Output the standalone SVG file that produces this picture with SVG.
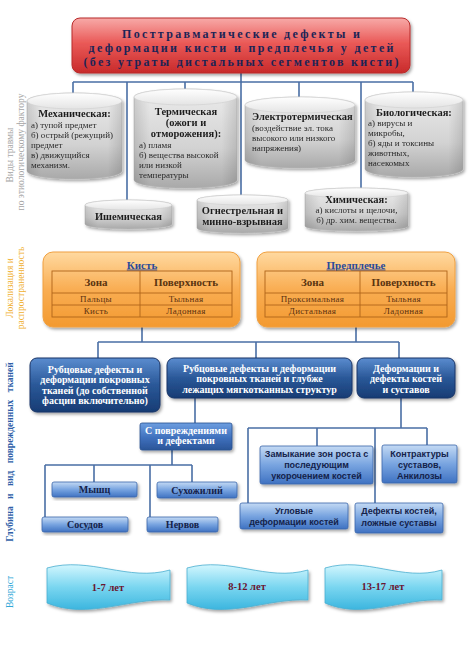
<svg xmlns="http://www.w3.org/2000/svg" width="474" height="670" viewBox="0 0 474 670">
<defs>
<linearGradient id="gRed" x1="0" y1="0" x2="0" y2="1"><stop offset="0" stop-color="#f7aaa8"/><stop offset="0.45" stop-color="#ea5a58"/><stop offset="1" stop-color="#c82a2a"/></linearGradient>
<linearGradient id="gCyl" x1="0" y1="0" x2="0" y2="1"><stop offset="0" stop-color="#ececec"/><stop offset="0.6" stop-color="#d2d2d2"/><stop offset="1" stop-color="#a9a9a9"/></linearGradient>
<linearGradient id="gCylSide" x1="0" y1="0" x2="1" y2="0"><stop offset="0" stop-color="#000" stop-opacity="0.12"/><stop offset="0.15" stop-color="#000" stop-opacity="0"/><stop offset="0.85" stop-color="#000" stop-opacity="0"/><stop offset="1" stop-color="#000" stop-opacity="0.12"/></linearGradient>
<linearGradient id="gTop" x1="0" y1="0" x2="0" y2="1"><stop offset="0" stop-color="#ffffff"/><stop offset="1" stop-color="#e4e4e4"/></linearGradient>
<linearGradient id="gOr" x1="0" y1="0" x2="0" y2="1"><stop offset="0" stop-color="#ffd9a0"/><stop offset="0.5" stop-color="#f9ad52"/><stop offset="1" stop-color="#f39a30"/></linearGradient>
<linearGradient id="gDB" x1="0" y1="0" x2="0" y2="1"><stop offset="0" stop-color="#5a8ccf"/><stop offset="0.5" stop-color="#2a5898"/><stop offset="1" stop-color="#173c74"/></linearGradient>
<linearGradient id="gMB" x1="0" y1="0" x2="0" y2="1"><stop offset="0" stop-color="#6d9ee0"/><stop offset="0.55" stop-color="#3f70bd"/><stop offset="1" stop-color="#2a5598"/></linearGradient>
<linearGradient id="gLB" x1="0" y1="0" x2="0" y2="1"><stop offset="0" stop-color="#c4daf4"/><stop offset="0.5" stop-color="#78a4e0"/><stop offset="1" stop-color="#3f72c2"/></linearGradient>
<linearGradient id="gCy" x1="0" y1="0" x2="0" y2="1"><stop offset="0" stop-color="#d2f6fe"/><stop offset="0.5" stop-color="#7ad6f0"/><stop offset="1" stop-color="#3cb6df"/></linearGradient>
<filter id="sh" x="-10%" y="-10%" width="125%" height="135%"><feDropShadow dx="1.5" dy="2" stdDeviation="1.5" flood-color="#000" flood-opacity="0.35"/></filter>
<style>
.conn{stroke:#4a6fa5;stroke-width:1.6;fill:none}
.cyl{fill:url(#gCyl);stroke:#b5b5b5;stroke-width:0.6}
.cyls{fill:url(#gCylSide)}
.ctop{fill:url(#gTop);stroke:#cfcfcf;stroke-width:0.6}
.st{font-family:"Liberation Serif",serif;font-weight:bold;font-size:10.5px;fill:#1e1e1e;text-anchor:middle}
.si{font-family:"Liberation Serif",serif;font-size:9px;fill:#2a2a2a}
.title{font-family:"Liberation Serif",serif;font-weight:bold;font-size:12px;fill:#1c2456;text-anchor:middle}
.or{fill:url(#gOr);stroke:#f0a040;stroke-width:1}
.tbl{fill:none;stroke:#b0641a;stroke-width:0.9}
.th{font-family:"Liberation Serif",serif;font-weight:bold;font-size:11px;fill:#5a3410;text-anchor:middle}
.td{font-family:"Liberation Serif",serif;font-size:9px;fill:#5a3010;text-anchor:middle;letter-spacing:0.3px}
.ot{font-family:"Liberation Serif",serif;font-weight:bold;font-size:11px;fill:#2a4a9a;text-anchor:middle;text-decoration:underline}
.db{fill:url(#gDB);stroke:#1a3566;stroke-width:1}
.dbt{font-family:"Liberation Serif",serif;font-weight:bold;font-size:10px;fill:#ffffff;text-anchor:middle}
.lb{fill:url(#gLB);stroke:#3a66aa;stroke-width:0.8}
.lbt{font-family:"Liberation Serif",serif;font-weight:bold;font-size:10px;fill:#14224a;text-anchor:middle}
.lbs{font-family:"Liberation Sans",sans-serif;font-weight:bold;font-size:9px;fill:#14224a;text-anchor:middle}
.cy{fill:url(#gCy);stroke:#4aaed0;stroke-width:0.8}
.cyt{font-family:"Liberation Serif",serif;font-weight:bold;font-size:10.5px;fill:#6a1530;text-anchor:middle}
.side{font-family:"Liberation Serif",serif;font-size:9.5px;text-anchor:middle}
</style>
</defs>
<rect width="474" height="670" fill="#ffffff"/>

<g id="side-labels">
<text class="side" fill="#a5a5a5" transform="translate(13,155) rotate(-90)">Виды травмы</text>
<text class="side" fill="#a5a5a5" transform="translate(24,152) rotate(-90)">по этиологическому фактору</text>
<text class="side" fill="#f0b030" transform="translate(13,288) rotate(-90)">Локализация и</text>
<text class="side" fill="#f0b030" transform="translate(24,288) rotate(-90)">распространенность</text>
<text class="side" fill="#2f5fa8" font-weight="bold" font-size="10" word-spacing="5" transform="translate(13,452) rotate(-90)">Глубина и вид поврежденных тканей</text>
<text class="side" fill="#30a8d8" font-size="10.5" transform="translate(13,592) rotate(-90)">Возраст</text>
</g>

<g id="connectors">
<path class="conn" d="M241,73 V197 M73,82 H413 M73,82 V96 M127,82 V203 M185,82 V92 M299,82 V100 M361,82 V190 M413,82 V95"/>
<path class="conn" d="M142,327 V342 M356,327 V342 M98,342 H399 M98,342 V358 M256,342 V358 M399,342 V358"/>
<path class="conn" d="M195,398 V423 M172,450 V465 M45,465 H192 M45,465 V517 M94,465 V482 M150,465 V517 M192,465 V482"/>
<path class="conn" d="M401,398 V428 M248,428 H427 M248,428 V503 M317,428 V446 M375,428 V503 M427,428 V445"/>
</g>

<g id="title">
<rect x="72" y="18" width="338" height="55" rx="8" fill="url(#gRed)" stroke="#b82a2a" stroke-width="1" filter="url(#sh)"/>
<text class="title" x="241" y="38" textLength="238" lengthAdjust="spacing">Посттравматические дефекты и</text>
<text class="title" x="241" y="52" textLength="305" lengthAdjust="spacing">деформации кисти и предплечья у детей</text>
<text class="title" x="241" y="66" textLength="315" lengthAdjust="spacing">(без утраты дистальных сегментов кисти)</text>
</g>

<g id="mech" filter="url(#sh)">
<path class="cyl" d="M27,101 A47.5,8 0 0 1 122,101 V171 A47.5,8 0 0 1 27,171 Z"/>
<path class="cyls" d="M27,101 A47.5,8 0 0 1 122,101 V171 A47.5,8 0 0 1 27,171 Z"/>
<ellipse class="ctop" cx="74.5" cy="101" rx="47.5" ry="8"/>
<text class="st" x="74.5" y="117">Механическая:</text>
<text class="si" x="31" y="128">а) тупой предмет</text>
<text class="si" x="31" y="138">б) острый (режущий)</text>
<text class="si" x="31" y="148">предмет</text>
<text class="si" x="31" y="158">в) движущийся</text>
<text class="si" x="31" y="168">механизм.</text>
</g>

<g id="therm" filter="url(#sh)">
<path class="cyl" d="M134,97 A51.5,8 0 0 1 237,97 V180 A51.5,8 0 0 1 134,180 Z"/>
<path class="cyls" d="M134,97 A51.5,8 0 0 1 237,97 V180 A51.5,8 0 0 1 134,180 Z"/>
<ellipse class="ctop" cx="185.5" cy="97" rx="51.5" ry="8"/>
<text class="st" x="186" y="115">Термическая</text>
<text class="st" x="186" y="126">(ожоги и</text>
<text class="st" x="186" y="137">отморожения):</text>
<text class="si" x="139" y="148">а) пламя</text>
<text class="si" x="139" y="158">б) вещества высокой</text>
<text class="si" x="139" y="168">или низкой</text>
<text class="si" x="139" y="178">температуры</text>
</g>

<g id="electro" filter="url(#sh)">
<path class="cyl" d="M245,105 A55,8 0 0 1 355,105 V160 A55,8 0 0 1 245,160 Z"/>
<path class="cyls" d="M245,105 A55,8 0 0 1 355,105 V160 A55,8 0 0 1 245,160 Z"/>
<ellipse class="ctop" cx="300" cy="105" rx="55" ry="8"/>
<text class="st" x="252" y="120" style="text-anchor:start">Электротермическая</text>
<text class="si" x="252" y="131">(воздействие эл. тока</text>
<text class="si" x="252" y="141">высокого или низкого</text>
<text class="si" x="252" y="151">напряжения)</text>
</g>

<g id="bio" filter="url(#sh)">
<path class="cyl" d="M365,100 A49,8 0 0 1 463,100 V169 A49,8 0 0 1 365,169 Z"/>
<path class="cyls" d="M365,100 A49,8 0 0 1 463,100 V169 A49,8 0 0 1 365,169 Z"/>
<ellipse class="ctop" cx="414" cy="100" rx="49" ry="8"/>
<text class="st" x="414" y="116">Биологическая:</text>
<text class="si" x="368" y="126">а) вирусы и</text>
<text class="si" x="368" y="136">микробы,</text>
<text class="si" x="368" y="146">б) яды и токсины</text>
<text class="si" x="368" y="156">животных,</text>
<text class="si" x="368" y="166">насекомых</text>
</g>

<g id="ischem" filter="url(#sh)">
<path class="cyl" d="M85,205 A43.5,5 0 0 1 172,205 V224 A43.5,5 0 0 1 85,224 Z"/>
<path class="cyls" d="M85,205 A43.5,5 0 0 1 172,205 V224 A43.5,5 0 0 1 85,224 Z"/>
<ellipse class="ctop" cx="128.5" cy="205" rx="43.5" ry="5"/>
<text class="st" x="128.5" y="219.5">Ишемическая</text>
</g>

<g id="gun" filter="url(#sh)">
<path class="cyl" d="M197,200 A45.5,5 0 0 1 288,200 V228 A45.5,5 0 0 1 197,228 Z"/>
<path class="cyls" d="M197,200 A45.5,5 0 0 1 288,200 V228 A45.5,5 0 0 1 197,228 Z"/>
<ellipse class="ctop" cx="242.5" cy="200" rx="45.5" ry="5"/>
<text class="st" x="242.5" y="213.5">Огнестрельная и</text>
<text class="st" x="242.5" y="224.5">минно-взрывная</text>
</g>

<g id="chem" filter="url(#sh)">
<path class="cyl" d="M305,193 A51.5,5 0 0 1 408,193 V226 A51.5,5 0 0 1 305,226 Z"/>
<path class="cyls" d="M305,193 A51.5,5 0 0 1 408,193 V226 A51.5,5 0 0 1 305,226 Z"/>
<ellipse class="ctop" cx="356.5" cy="193" rx="51.5" ry="5"/>
<text class="st" x="356.5" y="203">Химическая:</text>
<text class="si" x="356.5" y="213" text-anchor="middle">а) кислоты и щелочи,</text>
<text class="si" x="356.5" y="223" text-anchor="middle">б) др. хим. вещества.</text>
</g>

<g id="hand">
<rect class="or" x="43" y="252" width="197" height="75" rx="10" filter="url(#sh)"/>
<text class="ot" x="142" y="268.5">Кисть</text>
<rect class="tbl" x="52" y="271" width="180" height="46"/>
<path class="tbl" d="M52,293 H232 M52,305 H232 M140,271 V317"/>
<text class="th" x="96" y="286">Зона</text>
<text class="th" x="186" y="286">Поверхность</text>
<text class="td" x="96" y="302">Пальцы</text>
<text class="td" x="186" y="302">Тыльная</text>
<text class="td" x="96" y="314">Кисть</text>
<text class="td" x="186" y="314">Ладонная</text>
</g>

<g id="forearm">
<rect class="or" x="257" y="252" width="198" height="75" rx="10" filter="url(#sh)"/>
<text class="ot" x="356" y="268.5">Предплечье</text>
<rect class="tbl" x="265" y="271" width="182" height="46"/>
<path class="tbl" d="M265,293 H447 M265,305 H447 M360,271 V317"/>
<text class="th" x="312.5" y="286">Зона</text>
<text class="th" x="403.5" y="286">Поверхность</text>
<text class="td" x="312.5" y="302">Проксимальная</text>
<text class="td" x="403.5" y="302">Тыльная</text>
<text class="td" x="312.5" y="314">Дистальная</text>
<text class="td" x="403.5" y="314">Ладонная</text>
</g>

<g id="blue1">
<rect class="db" x="30" y="358" width="130" height="54" rx="7" filter="url(#sh)"/>
<text class="dbt" x="95" y="372.5">Рубцовые дефекты  и</text>
<text class="dbt" x="95" y="383">деформации покровных</text>
<text class="dbt" x="95" y="393.5">тканей (до собственной</text>
<text class="dbt" x="95" y="404">фасции включительно)</text>
</g>

<g id="blue2">
<rect class="db" x="167" y="358" width="185" height="40" rx="7" filter="url(#sh)"/>
<text class="dbt" x="259.5" y="371.5">Рубцовые дефекты и деформации</text>
<text class="dbt" x="259.5" y="382">покровных тканей и глубже</text>
<text class="dbt" x="259.5" y="392.5">лежащих мягкотканных структур</text>
</g>

<g id="blue3">
<rect class="db" x="357" y="358" width="98" height="40" rx="7" filter="url(#sh)"/>
<text class="dbt" x="406" y="371.5">Деформации и</text>
<text class="dbt" x="406" y="382">дефекты костей</text>
<text class="dbt" x="406" y="392.5">и суставов</text>
</g>

<g id="damage">
<rect x="140" y="423" width="92" height="27" rx="2" fill="url(#gMB)" stroke="#2a5090" stroke-width="0.8" filter="url(#sh)"/>
<text class="dbt" x="186" y="434" font-size="9.5">С повреждениями</text>
<text class="dbt" x="186" y="444" font-size="9.5">и дефектами</text>
</g>

<g id="muscle"><rect class="lb" x="52" y="482" width="85" height="15" rx="2" filter="url(#sh)"/><text class="lbt" x="94.5" y="493">Мышц</text></g>
<g id="tendon"><rect class="lb" x="157" y="482" width="80" height="16" rx="2" filter="url(#sh)"/><text class="lbt" x="197" y="493.5">Сухожилий</text></g>
<g id="vessel"><rect class="lb" x="42" y="517" width="86" height="15" rx="2" filter="url(#sh)"/><text class="lbt" x="85" y="528">Сосудов</text></g>
<g id="nerve"><rect class="lb" x="147" y="517" width="71" height="15" rx="2" filter="url(#sh)"/><text class="lbt" x="182.5" y="528">Нервов</text></g>

<g id="growth"><rect class="lb" x="260" y="446" width="113" height="38" rx="2" filter="url(#sh)"/>
<text class="lbs" x="316.5" y="457" font-size="8.5">Замыкание зон роста с</text>
<text class="lbs" x="316.5" y="468" font-size="8.5">последующим</text>
<text class="lbs" x="316.5" y="479" font-size="8.5">укорочением костей</text></g>
<g id="contract"><rect class="lb" x="382" y="445" width="75" height="38" rx="2" filter="url(#sh)"/>
<text class="lbs" x="419.5" y="457" font-size="9.5">Контрактуры</text>
<text class="lbs" x="419.5" y="468" font-size="9.5">суставов,</text>
<text class="lbs" x="419.5" y="479" font-size="9.5">Анкилозы</text></g>
<g id="angular"><rect class="lb" x="240" y="503" width="108" height="26" rx="2" filter="url(#sh)"/>
<text class="lbs" x="294" y="514" font-size="9.5">Угловые</text>
<text class="lbs" x="294" y="525" font-size="9.5">деформации костей</text></g>
<g id="bonedef"><rect class="lb" x="355" y="503" width="88" height="30" rx="2" filter="url(#sh)"/>
<text class="lbs" x="399" y="514" font-size="9.5">Дефекты костей,</text>
<text class="lbs" x="399" y="526" font-size="9.5">ложные суставы</text></g>

<g id="age1"><path class="cy" filter="url(#sh)" d="M47,568 C90,556 128,582 170,570 L170,600 C128,598 88,620 47,603 Z"/><text class="cyt" x="108" y="591">1-7 лет</text></g>
<g id="age2"><path class="cy" filter="url(#sh)" d="M187,568 C230,556 266,582 308,570 L308,600 C266,598 228,620 187,603 Z"/><text class="cyt" x="247" y="590">8-12 лет</text></g>
<g id="age3"><path class="cy" filter="url(#sh)" d="M325,568 C366,556 402,582 442,570 L442,600 C402,598 364,620 325,603 Z"/><text class="cyt" x="383" y="590">13-17 лет</text></g>
</svg>
